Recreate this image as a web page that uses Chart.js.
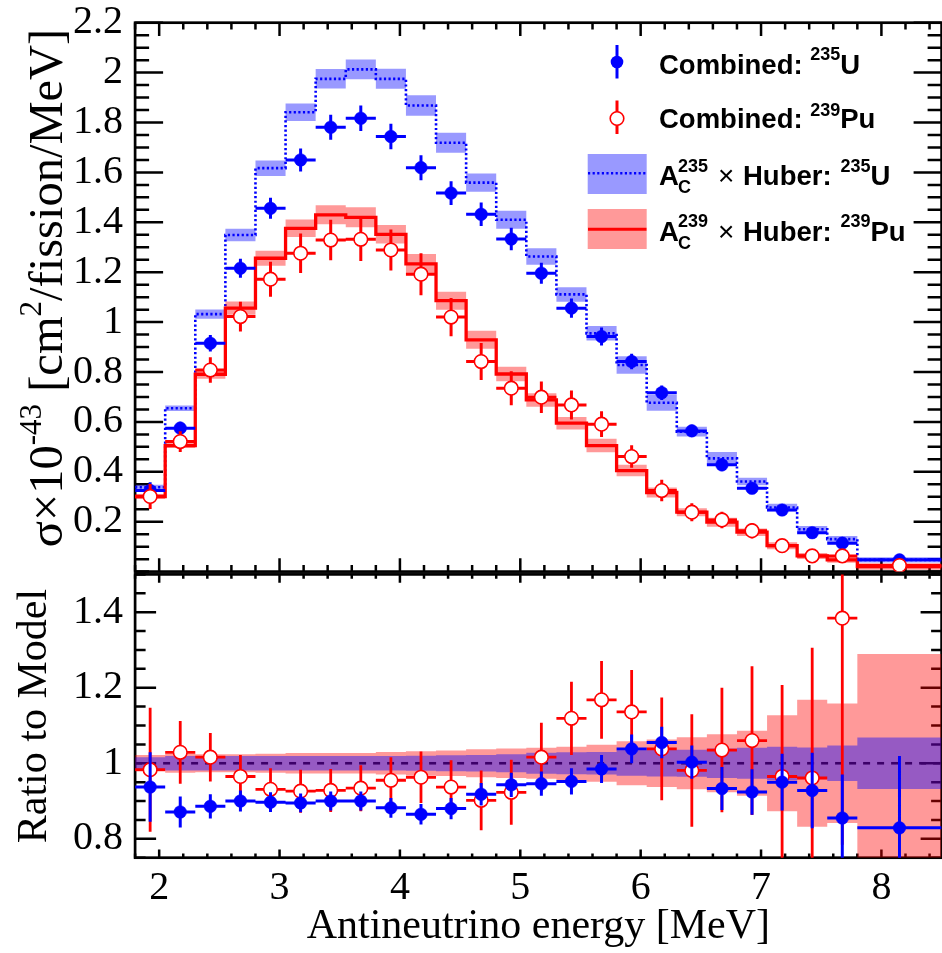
<!DOCTYPE html>
<html><head><meta charset="utf-8">
<script src="https://cdn.jsdelivr.net/npm/chart.js@4.4.1/dist/chart.umd.min.js"></script>
<style>
html,body{margin:0;padding:0;background:#fff;overflow:hidden;width:942px;height:953px;}
#wrapTop{position:absolute;left:0;top:0;width:950px;height:580px;}
#wrapBot{position:absolute;left:0;top:566px;width:950px;height:387px;}
</style></head><body>
<div id="wrapTop"><canvas id="top"></canvas></div>
<div id="wrapBot"><canvas id="bot"></canvas></div>
<script>
// ---------------- DATA ----------------
const binEdges = [1.8, 2.05, 2.3, 2.55, 2.8, 3.05, 3.3, 3.55, 3.8, 4.05, 4.3, 4.55, 4.8, 5.05, 5.3, 5.55, 5.8, 6.05, 6.3, 6.55, 6.8, 7.05, 7.3, 7.55, 7.8, 8.5];
const binCenters = [1.925, 2.175, 2.425, 2.675, 2.925, 3.175, 3.425, 3.675, 3.925, 4.175, 4.425, 4.675, 4.925, 5.175, 5.425, 5.675, 5.925, 6.175, 6.425, 6.675, 6.925, 7.175, 7.425, 7.675, 8.15];

// Top panel: measured cross sections (x1e-43 cm2/fission/MeV)
const dataU  = [0.325, 0.575, 0.915, 1.216, 1.456, 1.650, 1.781, 1.817, 1.744, 1.619, 1.517, 1.432, 1.333, 1.196, 1.056, 0.942, 0.842, 0.717, 0.564, 0.428, 0.334, 0.247, 0.156, 0.114, 0.047];
const errU   = [0.033, 0.026, 0.033, 0.038, 0.042, 0.046, 0.050, 0.051, 0.051, 0.050, 0.048, 0.047, 0.045, 0.042, 0.039, 0.036, 0.031, 0.029, 0.025, 0.026, 0.022, 0.020, 0.017, 0.015, 0.011];
const dataPu = [0.301, 0.521, 0.808, 1.022, 1.172, 1.276, 1.329, 1.332, 1.289, 1.192, 1.020, 0.842, 0.735, 0.699, 0.668, 0.591, 0.461, 0.325, 0.238, 0.207, 0.164, 0.104, 0.063, 0.063, 0.024];
const errPu  = [0.050, 0.042, 0.051, 0.060, 0.070, 0.079, 0.081, 0.087, 0.082, 0.084, 0.077, 0.074, 0.068, 0.063, 0.058, 0.052, 0.045, 0.043, 0.036, 0.033, 0.031, 0.026, 0.023, 0.027, 0.020];

// Top panel: models (A_C x Huber) and their band half-widths
const modelU  = [0.338, 0.655, 1.032, 1.349, 1.617, 1.841, 1.975, 2.013, 1.975, 1.868, 1.719, 1.559, 1.410, 1.263, 1.111, 0.955, 0.828, 0.677, 0.561, 0.454, 0.361, 0.257, 0.170, 0.130, 0.047];
const bandU   = [0.010, 0.011, 0.019, 0.025, 0.031, 0.035, 0.039, 0.040, 0.040, 0.041, 0.040, 0.037, 0.036, 0.033, 0.029, 0.029, 0.035, 0.032, 0.020, 0.025, 0.015, 0.015, 0.013, 0.013, 0.011];
const modelPu = [0.301, 0.505, 0.791, 1.056, 1.256, 1.376, 1.430, 1.420, 1.352, 1.233, 1.086, 0.929, 0.792, 0.688, 0.595, 0.505, 0.405, 0.317, 0.238, 0.198, 0.158, 0.104, 0.063, 0.047, 0.020];
const bandPu  = [0.010, 0.010, 0.018, 0.027, 0.030, 0.035, 0.038, 0.040, 0.037, 0.040, 0.036, 0.036, 0.029, 0.027, 0.025, 0.027, 0.023, 0.020, 0.016, 0.018, 0.015, 0.014, 0.012, 0.012, 0.013];

// Bottom panel: ratio to model
const ratioU     = [0.937, 0.871, 0.886, 0.900, 0.897, 0.895, 0.900, 0.900, 0.882, 0.865, 0.880, 0.918, 0.943, 0.946, 0.952, 0.985, 1.038, 1.055, 1.003, 0.933, 0.924, 0.950, 0.928, 0.855, 0.829];
const ratioUErr  = [0.092, 0.041, 0.032, 0.028, 0.026, 0.025, 0.025, 0.025, 0.026, 0.027, 0.028, 0.030, 0.032, 0.032, 0.035, 0.037, 0.038, 0.042, 0.044, 0.057, 0.060, 0.075, 0.100, 0.115, 0.190];
const ratioPu    = [0.983, 1.029, 1.016, 0.965, 0.931, 0.926, 0.928, 0.934, 0.955, 0.963, 0.937, 0.902, 0.923, 1.016, 1.119, 1.168, 1.136, 1.038, 0.981, 1.035, 1.060, 0.965, 0.961, 1.384, null];
const ratioPuErr = [0.164, 0.083, 0.064, 0.057, 0.056, 0.057, 0.057, 0.061, 0.061, 0.068, 0.071, 0.079, 0.086, 0.091, 0.097, 0.103, 0.111, 0.136, 0.149, 0.165, 0.197, 0.242, 0.345, 0.600, null];
const ratioBandU  = [0.016, 0.019, 0.019, 0.019, 0.019, 0.019, 0.019, 0.019, 0.019, 0.020, 0.021, 0.022, 0.024, 0.028, 0.029, 0.030, 0.033, 0.035, 0.036, 0.039, 0.041, 0.044, 0.042, 0.047, 0.068];
const ratioBandPu = [0.022, 0.025, 0.024, 0.024, 0.025, 0.027, 0.027, 0.027, 0.030, 0.032, 0.034, 0.037, 0.039, 0.041, 0.044, 0.049, 0.058, 0.063, 0.069, 0.077, 0.086, 0.127, 0.168, 0.158, 0.289];
const ratioRef = [1, 1];

// Axes
const xRange = [1.8, 8.5];
const xTicks = [2, 3, 4, 5, 6, 7, 8];
const topYRange = [0, 2.2];
const topYTicks = [0.2, 0.4, 0.6, 0.8, 1.0, 1.2, 1.4, 1.6, 1.8, 2.0, 2.2];
const botYRange = [0.75, 1.5];
const botYTicks = [0.8, 1.0, 1.2, 1.4];

// ---------------- HELPERS ----------------
const BLUE = '#0000ff', RED = '#ff0000';
const base = {type:'line', pointRadius:0, pointHoverRadius:0, pointHitRadius:0, tension:0, fill:false, spanGaps:false, borderCapStyle:'butt'};
function steps(center, hw, sign){
  const p = [];
  for (let i = 0; i < binEdges.length - 1; i++){
    const c = Array.isArray(center) ? center[i] : center;
    const y = hw ? c + sign*hw[i] : c;
    p.push({x:binEdges[i], y}, {x:binEdges[i+1], y});
  }
  return p;
}
function vErr(ys, es){
  const p = [];
  binCenters.forEach((x,i)=>{ if (ys[i]==null) return; p.push({x, y:ys[i]-es[i]}, {x, y:ys[i]+es[i]}, {x, y:null}); });
  return p;
}
function hErr(ys){
  const p = [];
  ys.forEach((y,i)=>{ if (y==null) return; p.push({x:binEdges[i], y}, {x:binEdges[i+1], y}, {x:binEdges[i+1], y:null}); });
  return p;
}
function pts(ys){ return binCenters.map((x,i)=>({x, y:ys[i]})).filter(p=>p.y!=null); }
function withOrder(list){ return list.map((d,i)=>Object.assign({}, base, d, {order: list.length - i})); }

function band(lowerData, upperData, color){
  return [
    {data: lowerData, borderWidth:0, borderColor:'rgba(0,0,0,0)'},
    {data: upperData, borderWidth:0, borderColor:'rgba(0,0,0,0)', fill:'-1', backgroundColor: color}
  ];
}
function errSet(data, color, w){ return {data, borderColor:color, borderWidth:w}; }
function markerSet(data, filled, color, r){
  return {data, showLine:false, pointRadius:r, pointHoverRadius:r, pointStyle:'circle',
    pointBackgroundColor: filled ? color : '#ffffff', pointBorderColor: color, pointBorderWidth: filled ? 0.5 : 1.6};
}

// ROOT-like frame and inward ticks
function framePlugin(cfg){
  return {id:'rootFrame', beforeDatasetsDraw(chart){
    const {ctx, chartArea:a, scales:{x, y}} = chart;
    ctx.save();
    ctx.strokeStyle = '#000'; ctx.lineWidth = 2.5; ctx.beginPath();
    const isMaj = (v, arr) => arr.some(m => Math.abs(m - v) < 1e-6);
    for (let k = 0; ; k++){
      const v = +(x.min + k*0.2).toFixed(4); if (v > x.max + 1e-9) break;
      const L = isMaj(v, xTicks) ? cfg.xMaj : cfg.xMin;
      const px = x.getPixelForValue(v);
      ctx.moveTo(px, a.bottom); ctx.lineTo(px, a.bottom - L);
      ctx.moveTo(px, a.top); ctx.lineTo(px, a.top + L);
    }
    for (let k = 0; ; k++){
      const v = +(y.min + k*0.05).toFixed(4); if (v > y.max + 1e-9) break;
      const L = isMaj(v, cfg.yTicks) ? cfg.yMaj : cfg.yMin;
      const py = y.getPixelForValue(v);
      ctx.moveTo(a.left, py); ctx.lineTo(a.left + L, py);
      ctx.moveTo(a.right, py); ctx.lineTo(a.right - L, py);
    }
    ctx.stroke();
    ctx.lineWidth = 2.7;
    ctx.strokeRect(a.left, a.top, a.right - a.left, a.bottom - a.top);
    ctx.restore();
  }};
}

const fmt = v => String(+(+v).toFixed(2));
const serif = 'Liberation Serif';

// ---------------- TOP CHART ----------------
const topSets = withOrder([
  ...band(steps(modelU, bandU, -1), steps(modelU, bandU, 1), 'rgba(0,0,255,0.4)'),
  {data: steps(modelU), borderColor:BLUE, borderWidth:2.6, borderDash:[2.2,2.4]},
  ...band(steps(modelPu, bandPu, -1), steps(modelPu, bandPu, 1), 'rgba(255,0,0,0.4)'),
  {data: steps(modelPu), borderColor:RED, borderWidth:3.3},
  errSet(hErr(dataU), BLUE, 3),
  errSet(vErr(dataU, errU), BLUE, 3),
  markerSet(pts(dataU), true, BLUE, 6.3),
  errSet(hErr(dataPu), RED, 3),
  errSet(vErr(dataPu, errPu), RED, 3),
  markerSet(pts(dataPu), false, RED, 6.8)
]);

const topTitlePlugin = {id:'topTitle', afterDraw(chart){
  const c = chart.ctx; c.save();
  c.translate(62, 288); c.rotate(-Math.PI/2);
  c.fillStyle = '#000'; c.textBaseline = 'alphabetic';
  const M = 48.5, S = 31;
  const segs = [['σ×10', M, 0], ['-43', S, -21], [' [cm', M, 0], ['2', S, -21], ['/fission/MeV]', M, 0]];
  let total = 0;
  segs.forEach(s => { c.font = s[1] + 'px "' + serif + '"'; total += c.measureText(s[0]).width; });
  let x = -total/2;
  segs.forEach(s => { c.font = s[1] + 'px "' + serif + '"'; c.fillText(s[0], x, s[2]); x += c.measureText(s[0]).width; });
  c.restore();
}};

const legendPlugin = {id:'rootLegend', afterDraw(chart){
  const c = chart.ctx; c.save();
  // markers
  c.strokeStyle = BLUE; c.lineWidth = 3; c.beginPath(); c.moveTo(617, 45); c.lineTo(617, 78.5); c.stroke();
  c.fillStyle = BLUE; c.beginPath(); c.arc(617, 62, 6.3, 0, 2*Math.PI); c.fill();
  c.strokeStyle = RED; c.lineWidth = 3; c.beginPath(); c.moveTo(617, 100.5); c.lineTo(617, 134); c.stroke();
  c.fillStyle = '#fff'; c.lineWidth = 1.6; c.beginPath(); c.arc(617, 118.5, 6.8, 0, 2*Math.PI); c.fill(); c.stroke();
  c.fillStyle = 'rgba(0,0,255,0.4)'; c.fillRect(587.7, 154, 59, 40);
  c.strokeStyle = BLUE; c.lineWidth = 2.6; c.setLineDash([2.2, 2.4]); c.beginPath(); c.moveTo(588, 173.3); c.lineTo(646.5, 173.3); c.stroke(); c.setLineDash([]);
  c.fillStyle = 'rgba(255,0,0,0.4)'; c.fillRect(587.7, 209, 59, 40);
  c.strokeStyle = RED; c.lineWidth = 3; c.beginPath(); c.moveTo(588, 229.3); c.lineTo(646.5, 229.3); c.stroke();
  // texts
  const B = 'bold 27.5px "Liberation Sans"', S = 'bold 18px "Liberation Sans"', R = '28px "Liberation Sans"';
  c.fillStyle = '#000'; c.textBaseline = 'alphabetic';
  function rich(x, y, segs){ segs.forEach(s => { c.font = s[1]; c.fillText(s[0], x, y + s[2]); x += c.measureText(s[0]).width; }); return x; }
  rich(659, 74, [['Combined: ', B, 0], ['235', S, -14.5], ['U', B, 0]]);
  rich(659, 128.3, [['Combined: ', B, 0], ['239', S, -12.5], ['Pu', B, 0]]);
  function aRow(y, iso, el){
    c.font = B; c.fillText('A', 659, y);
    c.font = S; c.fillText('C', 678, y + 8.3); c.fillText(iso, 678, y - 13.3);
    c.font = R; c.fillText('×', 718, y);
    c.font = B; c.fillText('Huber:', 743, y);
    rich(840.5, y, [[iso, S, -13.3], [el, B, 0]]);
  }
  aRow(185, '235', 'U');
  aRow(240.7, '239', 'Pu');
  c.restore();
}};

new Chart(document.getElementById('top'), {
  type:'line',
  data:{datasets: topSets},
  options:{
    responsive:true, maintainAspectRatio:false, animation:false, events:[],
    layout:{padding:{top:22.7, right:2.7, bottom:8.3, left:0}},
    plugins:{legend:{display:false}, tooltip:{enabled:false}, title:{display:false}},
    scales:{
      x:{type:'linear', min:xRange[0], max:xRange[1], display:false},
      y:{type:'linear', min:topYRange[0], max:topYRange[1],
         afterBuildTicks: s => { s.ticks = topYTicks.map(v => ({value:v})); },
         afterFit: s => { s.width = 135.1; s.paddingTop = 0; s.paddingBottom = 0; },
         grid:{display:false, drawTicks:false}, border:{display:false},
         ticks:{color:'#000', padding:12, font:{family:serif, size:40}, callback: fmt}}
    }
  },
  plugins:[framePlugin({xMaj:13.3, xMin:6.7, yMaj:28, yMin:14, yTicks: topYTicks}), topTitlePlugin, legendPlugin]
});

// ---------------- BOTTOM CHART ----------------
const botSets = withOrder([
  {data: xRange.map((x,i)=>({x, y:ratioRef[i]})), borderColor:'#000', borderWidth:2.6, borderDash:[7,7]},
  ...band(steps(1, ratioBandPu, -1), steps(1, ratioBandPu, 1), 'rgba(255,0,0,0.4)'),
  ...band(steps(1, ratioBandU, -1), steps(1, ratioBandU, 1), 'rgba(0,0,255,0.41)'),
  errSet(hErr(ratioPu), RED, 2.8),
  errSet(vErr(ratioPu, ratioPuErr), RED, 2.8),
  markerSet(pts(ratioPu), false, RED, 6.8),
  errSet(hErr(ratioU), BLUE, 3),
  errSet(vErr(ratioU, ratioUErr), BLUE, 3),
  markerSet(pts(ratioU), true, BLUE, 6.3)
]);

new Chart(document.getElementById('bot'), {
  type:'line',
  data:{datasets: botSets},
  options:{
    responsive:true, maintainAspectRatio:false, animation:false, events:[],
    layout:{padding:{top:6.7, right:2.7, bottom:0, left:0}},
    plugins:{legend:{display:false}, tooltip:{enabled:false}},
    scales:{
      x:{type:'linear', min:xRange[0], max:xRange[1], position:'bottom',
         afterBuildTicks: s => { s.ticks = xTicks.map(v => ({value:v})); },
         afterFit: s => { s.height = 95.3; s.paddingLeft = 0; s.paddingRight = 0; },
         grid:{display:false, drawTicks:false}, border:{display:false},
         ticks:{color:'#000', padding:7, maxRotation:0, autoSkip:false, font:{family:serif, size:40}, callback: fmt},
         title:{display:true, text:'Antineutrino energy [MeV]', color:'#000', font:{family:serif, size:42}, padding:{top:0, bottom:0.5}}},
      y:{type:'linear', min:botYRange[0], max:botYRange[1],
         afterBuildTicks: s => { s.ticks = botYTicks.map(v => ({value:v})); },
         afterFit: s => { s.width = 135.1; s.paddingTop = 0; s.paddingBottom = 0; },
         grid:{display:false, drawTicks:false}, border:{display:false},
         ticks:{color:'#000', padding:12, font:{family:serif, size:40}, callback: fmt},
         title:{display:true, text:'Ratio to Model', color:'#000', font:{family:serif, size:42}, padding:{top:9.8, bottom:0}}}
    }
  },
  plugins:[framePlugin({xMaj:8.3, xMin:4.3, yMaj:21, yMin:10.5, yTicks: botYTicks})]
});
</script>
</body></html>
